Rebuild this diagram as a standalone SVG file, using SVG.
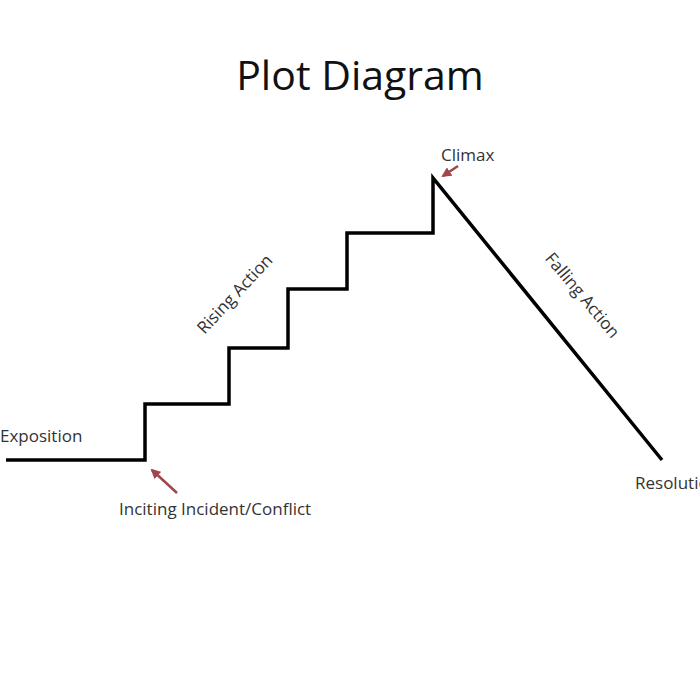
<svg xmlns="http://www.w3.org/2000/svg" width="700" height="700" viewBox="0 0 700 700">
<style>
.lbl{font-family:"Open Sans","Liberation Sans",sans-serif;font-size:17px;fill:#333}
.plot{fill:none;stroke:#000;stroke-width:3.5;stroke-linejoin:miter}
.ptr{stroke:#a0464b;stroke-width:2.5;fill:none}
</style>
<defs>
<marker id="ah" viewBox="0 0 10 10" refX="8" refY="5" markerWidth="4" markerHeight="4" orient="auto-start-reverse">
<path d="M0,0 L10,5 L0,10 z" fill="#a0464b"/>
</marker>
</defs>
<rect width="700" height="700" fill="#fff"/>
<text x="360" y="90" text-anchor="middle" font-family="Open Sans, Liberation Sans, sans-serif" font-size="41" fill="#111">Plot Diagram</text>
<g id="connectors">
<polyline class="plot" points="6,460 145,460 145,404 229,404 229,348 288,348 288,289 347,289 347,233 433,233 433,178 662,460"/>
<line class="ptr" x1="177" y1="493" x2="152" y2="470" marker-end="url(#ah)"/>
<line class="ptr" x1="458" y1="166" x2="443" y2="176" marker-end="url(#ah)"/>
</g>
<g id="exposition"><text class="lbl" x="0" y="442">Exposition</text></g>
<g id="inciting"><text class="lbl" x="119" y="515">Inciting Incident/Conflict</text></g>
<g id="rising"><text class="lbl" text-anchor="middle" transform="translate(239,298) rotate(-47)">Rising Action</text></g>
<g id="climax"><text class="lbl" x="441" y="161">Climax</text></g>
<g id="falling"><text class="lbl" text-anchor="middle" transform="translate(578,299) rotate(50)">Falling Action</text></g>
<g id="resolution"><text class="lbl" x="635" y="489">Resolution</text></g>
</svg>
